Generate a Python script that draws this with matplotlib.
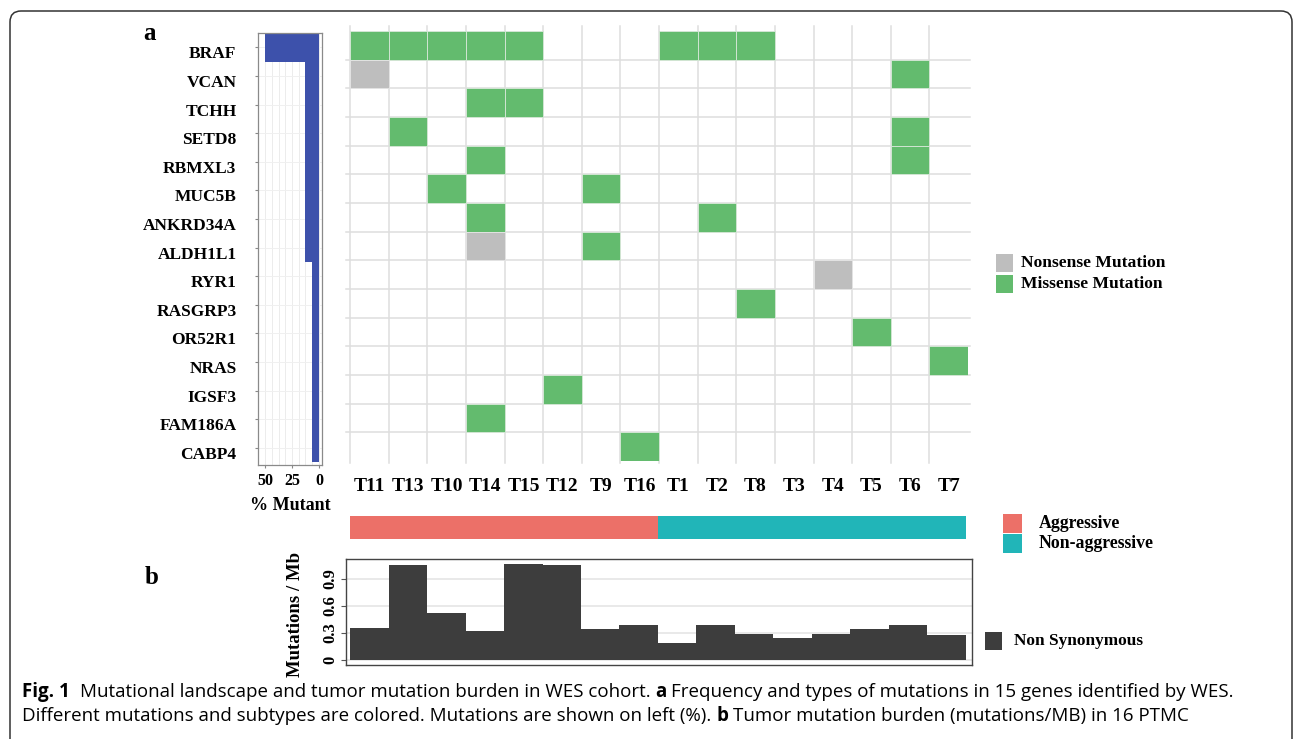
import matplotlib
matplotlib.use('Agg')
import matplotlib.pyplot as plt
from matplotlib import font_manager
from matplotlib.patches import Rectangle, FancyBboxPatch
from matplotlib.transforms import IdentityTransform, ScaledTranslation, blended_transform_factory

plt.rcParams['font.family'] = ['Liberation Serif', 'DejaVu Serif']

# data
samples = ['T11', 'T13', 'T10', 'T14', 'T15', 'T12', 'T9', 'T16',
           'T1', 'T2', 'T8', 'T3', 'T4', 'T5', 'T6', 'T7']
groups = ['Aggressive'] * 8 + ['Non-aggressive'] * 8
genes = ['BRAF', 'VCAN', 'TCHH', 'SETD8', 'RBMXL3', 'MUC5B', 'ANKRD34A', 'ALDH1L1',
         'RYR1', 'RASGRP3', 'OR52R1', 'NRAS', 'IGSF3', 'FAM186A', 'CABP4']
pct_mutant = [50, 12.5, 12.5, 12.5, 12.5, 12.5, 12.5, 12.5,
              6.25, 6.25, 6.25, 6.25, 6.25, 6.25, 6.25]
missense = {
    'BRAF': ['T11', 'T13', 'T10', 'T14', 'T15', 'T1', 'T2', 'T8'],
    'VCAN': ['T6'],
    'TCHH': ['T14', 'T15'],
    'SETD8': ['T13', 'T6'],
    'RBMXL3': ['T14', 'T6'],
    'MUC5B': ['T10', 'T9'],
    'ANKRD34A': ['T14', 'T2'],
    'ALDH1L1': ['T9'],
    'RASGRP3': ['T8'],
    'OR52R1': ['T5'],
    'NRAS': ['T7'],
    'IGSF3': ['T12'],
    'FAM186A': ['T14'],
    'CABP4': ['T16'],
}
nonsense = {
    'VCAN': ['T11'],
    'ALDH1L1': ['T14'],
    'RYR1': ['T4'],
}
tmb = [0.36, 1.06, 0.52, 0.32, 1.07, 1.055, 0.345, 0.385,
       0.19, 0.385, 0.285, 0.25, 0.285, 0.345, 0.385, 0.28]

green = '#63bb6e'
grey = '#bebebe'
blue = '#3d51ab'
group_colors = {'Aggressive': '#ec7068', 'Non-aggressive': '#21b5b8'}
tmb_color = '#3d3d3d'

W, H = 1295, 739
fig = plt.figure(figsize=(W / 100, H / 100), dpi=100)


def box(x0, y0, x1, y1):
    return [x0 / W, 1 - y1 / H, (x1 - x0) / W, (y1 - y0) / H]


def fx(x):
    return x / W


def fy(y):
    return 1 - y / H


# frame around the figure
fig.add_artist(FancyBboxPatch((10, H - 765), 1282, 754,
                              boxstyle='round,pad=0,rounding_size=11',
                              transform=IdentityTransform(), fill=False,
                              edgecolor='#333333', lw=1.1))

# ---- left: % mutant ----
axL = fig.add_axes(box(258, 33, 322, 465))
axL.barh(range(len(genes)), pct_mutant, height=1, color=blue, zorder=2)
axL.set_xlim(56.5, -2.8)
axL.set_ylim(14.6, -0.5)
axL.set_yticks(range(len(genes)))
axL.set_yticklabels(genes, fontsize=12.5, fontweight='bold')
axL.set_xticks([50, 25, 0])
axL.set_xticklabels(['50', '25', '0'], fontsize=11.5, fontweight='bold')
axL.set_xticks([43.75, 37.5, 31.25, 18.75, 12.5, 6.25], minor=True)
axL.tick_params(axis='y', length=2.5, color='#888888', pad=13)
axL.tick_params(axis='x', which='major', length=2.5, color='#888888', pad=3)
axL.tick_params(axis='x', which='minor', length=0)
axL.grid(axis='x', which='both', color='#ececec', lw=0.7, zorder=0)
axL.grid(axis='y', color='#f0f0f0', lw=0.7, zorder=0)
axL.set_axisbelow(True)
for s in axL.spines.values():
    s.set_color('#8a8a8a')
    s.set_linewidth(0.9)
for lab in axL.get_yticklabels():
    lab.set_transform(lab.get_transform() + ScaledTranslation(0, -0.05, fig.dpi_scale_trans))
axL.set_xlabel('% Mutant', fontsize=13, fontweight='bold', labelpad=6)

# ---- oncoplot tiles ----
axH = fig.add_axes(box(350, 31, 968, 461))
axH.set_xlim(0, len(samples))
axH.set_ylim(len(genes), 0)
axH.axis('off')
for i in range(len(samples)):
    axH.plot([i, i], [-0.17, 15.07], color='#dedede', lw=1.1, clip_on=False, zorder=0)
for r in range(1, len(genes)):
    axH.plot([-0.1, 16.05], [r, r], color='#dedede', lw=1.1, clip_on=False, zorder=0)
for r, g in enumerate(genes):
    for s in missense.get(g, []):
        axH.bar(samples.index(s), 1, bottom=r, width=1, align='edge',
                color=green, edgecolor='#d9e9da', lw=0.6, zorder=2)
    for s in nonsense.get(g, []):
        axH.bar(samples.index(s), 1, bottom=r, width=1, align='edge',
                color=grey, edgecolor='#e6e6e6', lw=0.6, zorder=2)
tr = blended_transform_factory(axH.transData, fig.transFigure)
for i, s in enumerate(samples):
    axH.text(i + 0.5, fy(491), s, transform=tr, ha='center', va='baseline',
             fontsize=14, fontweight='bold')

# ---- group bar ----
axG = fig.add_axes(box(350, 516, 966, 539))
for i, g in enumerate(groups):
    axG.barh(0, 1, left=i, height=1, color=group_colors[g], lw=0)
axG.set_xlim(0, len(samples))
axG.set_ylim(-0.5, 0.5)
axG.axis('off')

# ---- b: tumor mutation burden ----
axB = fig.add_axes(box(346, 559, 972, 665))
axB.bar(range(len(tmb)), tmb, width=1, align='edge', color=tmb_color, zorder=2)
axB.set_xlim(-0.104, 16.156)
axB.set_ylim(-0.055, 1.122)
axB.set_xticks([])
axB.set_yticks([0, 0.3, 0.6, 0.9])
axB.set_yticklabels(['0', '0.3', '0.6', '0.9'], rotation=90, va='center',
                    fontsize=12, fontweight='bold')
axB.tick_params(axis='y', length=3.5, color='#555555', pad=2)
axB.grid(axis='y', color='#e3e3e3', lw=1.1, zorder=0)
axB.set_axisbelow(True)
for s in axB.spines.values():
    s.set_color('#444444')
    s.set_linewidth(1.0)
fig.text(fx(296), fy(614), 'Mutations / Mb', rotation=90, ha='center', va='center',
         fontsize=13.5, fontweight='bold')

# ---- panel letters ----
fig.text(fx(150), fy(34), 'a', ha='center', va='center', fontsize=18, fontweight='bold')
fig.text(fx(152), fy(578), 'b', ha='center', va='center', fontsize=18, fontweight='bold')


# ---- legends ----
def legend_item(x, y0, y1, color, label, tx, size):
    fig.add_artist(Rectangle((fx(x[0]), fy(y1)), fx(x[1] - x[0]), (y1 - y0) / H,
                             transform=fig.transFigure, color=color, lw=0))
    fig.text(fx(tx), fy((y0 + y1) / 2), label, ha='left', va='center',
             fontsize=size, fontweight='bold')


legend_item((996, 1013), 254, 272, grey, 'Nonsense Mutation', 1021, 12.6)
legend_item((996, 1013), 275, 293, green, 'Missense Mutation', 1021, 12.6)
legend_item((1003, 1022), 514, 533, group_colors['Aggressive'], 'Aggressive', 1039, 12.8)
legend_item((1003, 1022), 534, 553, group_colors['Non-aggressive'], 'Non-aggressive', 1039, 12.8)
legend_item((985, 1002), 632, 650, tmb_color, 'Non Synonymous', 1014, 12.4)

# ---- caption ----
cap_font = 'Open Sans'
for f in ['Liberation Sans Narrow', 'Open Sans', 'DejaVu Sans']:
    try:
        font_manager.findfont(font_manager.FontProperties(family=f), fallback_to_default=False)
        cap_font = f
        break
    except ValueError:
        continue

line1 = [('Fig. 1', 'bold'),
         ('Mutational landscape and tumor mutation burden in WES cohort.', 'normal'),
         ('a', 'bold'),
         ('Frequency and types of mutations in 15 genes identified by WES.', 'normal')]
line2 = [('Different mutations and subtypes are colored. Mutations are shown on left (%).', 'normal'),
         ('b', 'bold'),
         ('Tumor mutation burden (mutations/MB) in 16 PTMC', 'normal')]

renderer = fig.canvas.get_renderer()


def text_width(s, size, weight):
    t = fig.text(0, 0, s, fontsize=size, fontweight=weight, family=cap_font)
    w = t.get_window_extent(renderer).width
    t.remove()
    return w


def line_width(parts, size):
    sp = text_width('x x', size, 'normal') - text_width('xx', size, 'normal')
    w = sum(text_width(s, size, wt) for s, wt in parts)
    return w + sp * (len(parts) - 1) + sp  # extra gap after "Fig. 1"


def draw_line(parts, x, y, size, first_gap=1.0):
    sp = text_width('x x', size, 'normal') - text_width('xx', size, 'normal')
    for k, (s, wt) in enumerate(parts):
        fig.text(fx(x), fy(y), s, fontsize=size, fontweight=wt, family=cap_font,
                 ha='left', va='baseline')
        gap = sp * (2 if (k == 0 and first_gap > 1) else 1)
        x += text_width(s, size, wt) + gap


base = 10
cap_size = base * (1237 - 22) / line_width(line1, base)
draw_line(line1, 22, 697, cap_size, first_gap=2)
draw_line(line2, 22, 721, cap_size)

fig.savefig('out.png', dpi=100)
